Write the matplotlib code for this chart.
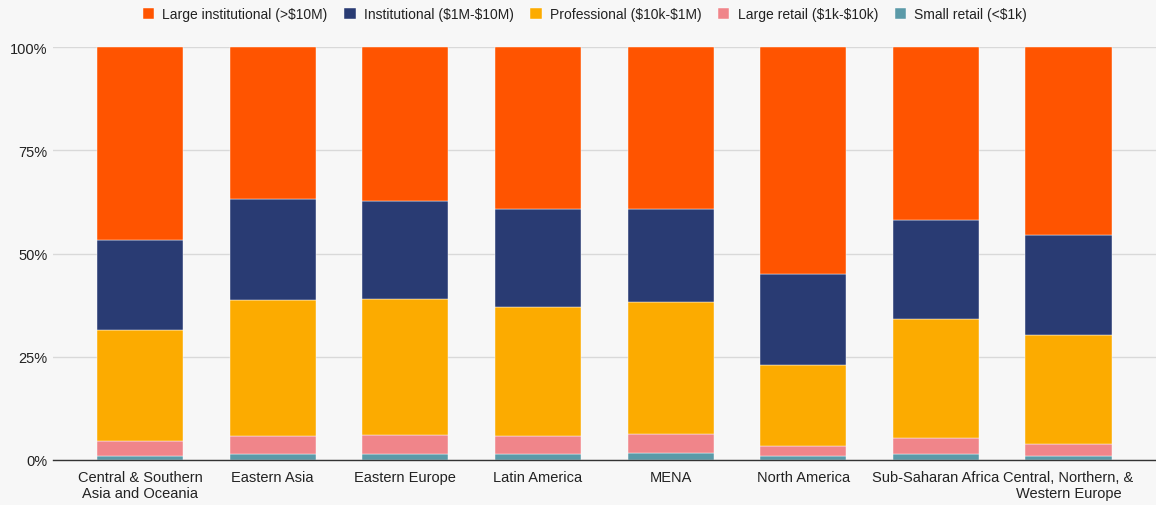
import matplotlib
matplotlib.use('Agg')
import matplotlib.pyplot as plt
import numpy as np

plt.rcParams['font.family'] = ['Liberation Sans', 'DejaVu Sans']
plt.rcParams['text.parse_math'] = False

regions = ['Central & Southern\nAsia and Oceania', 'Eastern Asia', 'Eastern Europe',
           'Latin America', 'MENA', 'North America', 'Sub-Saharan Africa',
           'Central, Northern, &\nWestern Europe']
series = ['Large institutional (>$10M)', 'Institutional ($1M-$10M)',
          'Professional ($10k-$1M)', 'Large retail ($1k-$10k)', 'Small retail (<$1k)']
colors = ['#ff5400', '#293b73', '#fcab00', '#f0858a', '#5b9aa8']

# segment sizes (%)
small_retail = [1.0, 1.35, 1.35, 1.35, 1.6, 0.9, 1.35, 0.9]
large_retail = [3.7, 4.35, 4.6, 4.35, 4.8, 2.4, 3.85, 3.0]
professional = [26.7, 33.0, 33.05, 31.3, 31.9, 19.8, 28.9, 26.3]
institutional = [21.8, 24.6, 23.7, 23.9, 22.5, 21.9, 23.9, 24.4]
large_inst = [100 - a - b - c - d for a, b, c, d in
              zip(small_retail, large_retail, professional, institutional)]

bg = '#f7f7f7'
fig = plt.figure(figsize=(11.56, 5.06), dpi=100, facecolor=bg)
ax = fig.add_axes([0.0455, 0.089, 0.9545, 0.816], facecolor=bg)

x = np.arange(len(regions))
w = 0.65
stack = [small_retail, large_retail, professional, institutional, large_inst]
stack_colors = colors[::-1]
stack_labels = series[::-1]
bottom = np.zeros(len(regions))
handles = {}
for vals, c, lab in zip(stack, stack_colors, stack_labels):
    b = ax.bar(x, vals, w, bottom=bottom, color=c, label=lab, zorder=3,
               edgecolor='#ffffff', linewidth=0.3)
    handles[lab] = b
    bottom += np.array(vals)

ax.set_xlim(-0.66, 7.66)
ax.set_ylim(0, 100)
ax.set_yticks([0, 25, 50, 75, 100])
ax.set_yticklabels(['0%', '25%', '50%', '75%', '100%'])
ax.yaxis.grid(True, color='#d9d9d9', linewidth=1, zorder=0)
ax.set_xticks(x)
ax.set_xticklabels(regions, linespacing=1.25)
ax.tick_params(axis='both', length=0, labelsize=10.5, colors='#222222')
ax.tick_params(axis='x', pad=7)
for s in ['top', 'right', 'left']:
    ax.spines[s].set_visible(False)
ax.spines['bottom'].set_color('#333333')
ax.spines['bottom'].set_linewidth(1)
ax.spines['bottom'].set_zorder(4)

fig.legend([handles[s] for s in series], series, loc='upper center',
           bbox_to_anchor=(0.506, 1.008), ncol=5, frameon=False, fontsize=10,
           handlelength=0.8, handleheight=0.8, columnspacing=1.2, handletextpad=0.6,
           labelcolor='#222222')

fig.savefig('out.png', dpi=100, facecolor=bg)
